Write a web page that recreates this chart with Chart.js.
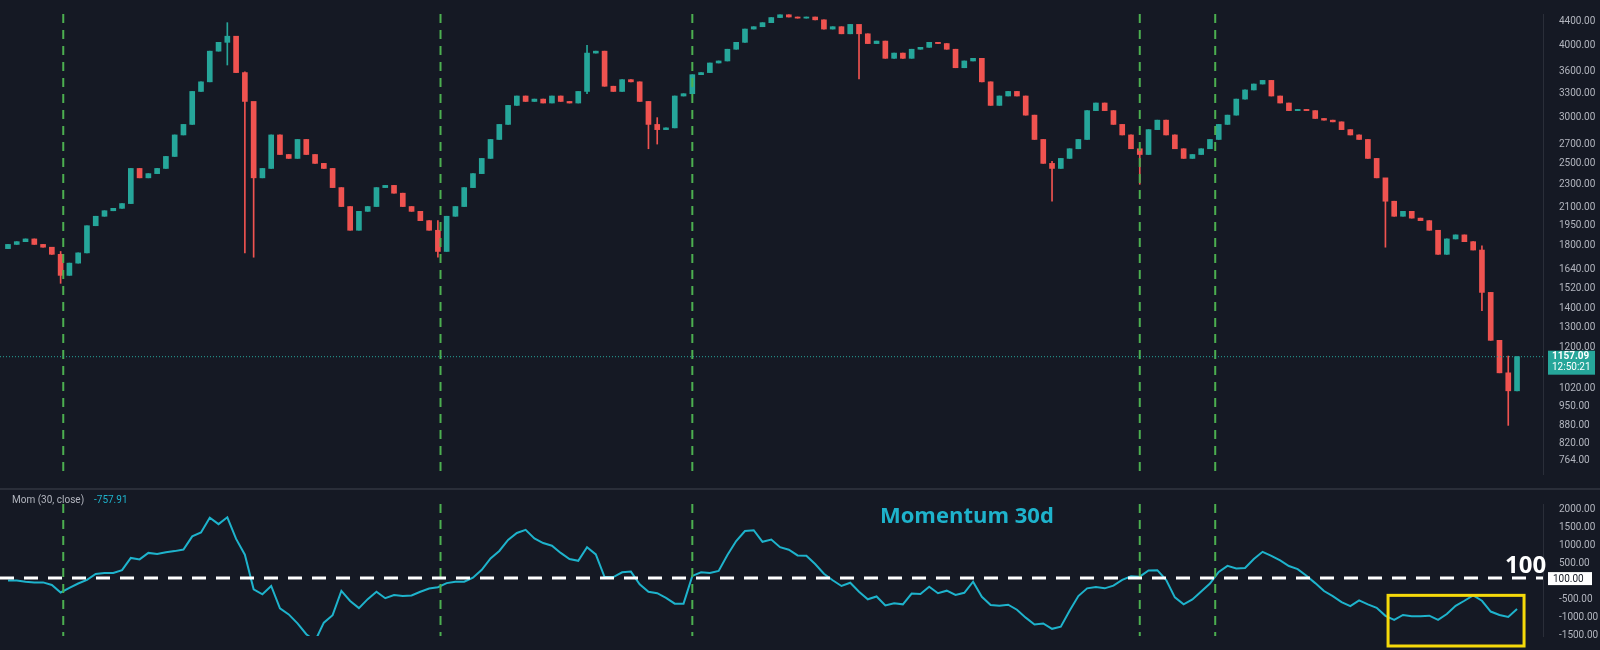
<!DOCTYPE html>
<html>
<head>
<meta charset="utf-8">
<script src="https://cdn.jsdelivr.net/npm/chart.js@4.4.1/dist/chart.umd.min.js"></script>
<style>
  html, body { margin: 0; padding: 0; background: #151924; overflow: hidden; }
  #wrap { position: relative; width: 1600px; height: 650px; overflow: hidden; }
  .pane { position: absolute; left: 0; width: 1600px; }
  #pTop { top: 0; height: 488px; }
  #pBot { top: 490px; height: 160px; }
  #sep { position: absolute; left: 0; top: 488px; width: 1600px; height: 2px; background: #2a2e39; }
</style>
</head>
<body>
<div id="wrap">
  <div class="pane" id="pTop"><canvas id="top"></canvas></div>
  <div id="sep"></div>
  <div class="pane" id="pBot"><canvas id="bot"></canvas></div>
</div>
<script>
// cierres de velas (2 días)
const closes = [1810,1830,1850,1810,1790,1740,1600,1680,1750,1950,
  2025,2070,2090,2130,2450,2360,2400,2450,2570,2800,
  2920,3330,3460,3910,4050,4150,3590,3200,2360,2450,
  2800,2590,2550,2750,2590,2500,2450,2270,2105,1915,
  2065,2105,2270,2290,2220,2105,2065,1990,1915,1760,
  2025,2105,2270,2400,2550,2750,2920,3150,3270,3200,
  3230,3180,3270,3200,3180,3330,3880,3910,3400,3330,
  3490,3460,3200,2920,2860,2880,3270,3300,3560,3590,
  3730,3760,3940,4050,4270,4310,4380,4470,4520,4480,
  4460,4480,4430,4270,4310,4190,4350,4190,4030,4070,
  3800,3880,3800,3940,3970,4050,4030,3940,3660,3760,
  3800,3460,3150,3270,3330,3270,3030,2750,2500,2450,
  2550,2650,2750,3085,3180,3085,2920,2800,2650,2590,
  2860,2970,2800,2650,2550,2590,2650,2750,2920,3030,
  3230,3350,3430,3480,3270,3180,3085,3100,3085,2990,
  2970,2950,2860,2800,2750,2550,2360,2150,2025,2065,
  2010,1990,1915,1740,1850,1880,1830,1770,1495,1235,
  1085,1010,1157.09];
// cierres previos (para el cálculo del momentum)
const warmup = [1780,1800,1850,1830,1810,1830,1900,1850,1800,1900];
const firstOpen = 1780;
// mechas largas: [índice, mínimo, máximo]
const wicks = [[6,1550,1760],[25,3700,4380],[27,1750,3600],[28,1720,2500],[49,1720,1990],
  [66,3300,4000],[73,2650,3200],[74,2700,3000],[97,3500,4300],[119,2150,2520],
  [129,2300,2650],[157,1790,2250],[168,1390,1800],[171,880,1160]];
const priceTicks = [4400,4000,3600,3300,3000,2700,2500,2300,2100,1950,1800,1640,1520,1400,1300,1200,1100,1020,950,880,820,764];
const momTicks = [2000,1500,1000,500,-500,-1000,-1500];
const crossIdx = [6.3, 49.3, 78, 129, 137.6];   // líneas verdes verticales
const boxRange = [157.3, 172.8, -380];          // rectángulo amarillo (x0, x1, y superior)
const LAG = 10;

const UP = '#26a69a', DOWN = '#ef5350';
const bodies = [], lines = [], bodyCol = [], mom = [];
closes.forEach(function(c, i) {
  const o = i === 0 ? firstOpen : closes[i - 1];
  bodies.push({ x: i, y: [o, c] });
  bodyCol.push(c >= o ? UP : DOWN);
  const ref = i < LAG ? warmup[i] : closes[i - LAG];
  mom.push({ x: i, y: c - ref });
  const w = wicks.find(function(k) { return k[0] === i; });
  lines.push({ x: i, y: w ? [w[1], w[2]] : [Math.min(o, c), Math.max(o, c)] });
});

const xScale = { type: 'linear', min: -0.91, max: 174.96, display: false, offset: false };
const axisWidth = function(s) { s.width = 57; };
const tickFont = { family: 'Roboto', size: 10 };

const vlines = {
  id: 'vlines',
  afterDatasetsDraw: function(chart) {
    const ctx = chart.ctx, xs = chart.scales.x, a = chart.chartArea;
    ctx.save();
    ctx.strokeStyle = '#4caf50'; ctx.lineWidth = 2; ctx.setLineDash([9, 7]);
    crossIdx.forEach(function(v) {
      const px = xs.getPixelForValue(v);
      ctx.beginPath(); ctx.moveTo(px, a.top); ctx.lineTo(px, a.bottom); ctx.stroke();
    });
    ctx.restore();
  }
};

const lastPrice = {
  id: 'lastPrice',
  afterDatasetsDraw: function(chart) {
    const ctx = chart.ctx, ys = chart.scales.y, a = chart.chartArea;
    const v = closes[closes.length - 1], py = ys.getPixelForValue(v);
    ctx.save();
    ctx.strokeStyle = '#26a69a'; ctx.lineWidth = 1; ctx.setLineDash([1, 2]);
    ctx.beginPath(); ctx.moveTo(a.left, py); ctx.lineTo(a.right, py); ctx.stroke();
    ctx.setLineDash([]);
    ctx.fillStyle = '#26a69a';
    ctx.fillRect(a.right + 5, py - 6, 47, 24);
    ctx.fillStyle = '#ffffff'; ctx.font = 'bold 10px Roboto'; ctx.textBaseline = 'middle';
    ctx.fillText(v.toFixed(2), a.right + 9, py);
    ctx.font = '10px Roboto';
    ctx.fillText('12:50:21', a.right + 9, py + 11);
    ctx.restore();
  }
};

new Chart(document.getElementById('top'), {
  type: 'bar',
  data: { datasets: [
    { data: lines, backgroundColor: bodyCol, barThickness: 1, grouped: false },
    { data: bodies, backgroundColor: bodyCol, barThickness: 5, grouped: false, minBarLength: 1 }
  ] },
  options: {
    responsive: true, maintainAspectRatio: false, animation: false,
    layout: { padding: 0 },
    plugins: { legend: { display: false }, tooltip: { enabled: false } },
    scales: {
      x: xScale,
      y: {
        type: 'logarithmic', position: 'right', min: 725, max: 4534,
        afterFit: axisWidth,
        afterBuildTicks: function(s) { s.ticks = priceTicks.map(function(v) { return { value: v }; }); },
        ticks: { color: '#b2b5be', font: tickFont, padding: 8, autoSkip: false,
          callback: function(v) { return v.toFixed(2); } },
        grid: { display: false }, border: { color: '#2a2e39' }
      }
    }
  },
  plugins: [vlines, lastPrice]
});

const momExtras = {
  id: 'momExtras',
  afterDatasetsDraw: function(chart) {
    const ctx = chart.ctx, xs = chart.scales.x, ys = chart.scales.y, a = chart.chartArea;
    ctx.save();
    const y100 = ys.getPixelForValue(100);
    ctx.strokeStyle = '#ffffff'; ctx.lineWidth = 3; ctx.setLineDash([14, 10]);
    ctx.beginPath(); ctx.moveTo(a.left, y100); ctx.lineTo(a.right, y100); ctx.stroke();
    ctx.setLineDash([]);
    ctx.strokeStyle = '#f5d90a'; ctx.lineWidth = 3;
    const x0 = xs.getPixelForValue(boxRange[0]), x1 = xs.getPixelForValue(boxRange[1]);
    const yt = ys.getPixelForValue(boxRange[2]);
    ctx.strokeRect(x0, yt, x1 - x0, a.bottom + 10 - yt);
    ctx.fillStyle = '#ffffff';
    ctx.fillRect(a.right + 5, y100 - 6, 44, 13);
    ctx.fillStyle = '#131722'; ctx.font = '10px Roboto'; ctx.textBaseline = 'middle';
    ctx.fillText('100.00', a.right + 10, y100 + 1);
    ctx.fillStyle = '#ffffff'; ctx.font = 'bold 24px "Open Sans"'; ctx.textBaseline = 'alphabetic';
    ctx.fillText('100', a.right - 38, y100 - 5);
    ctx.fillStyle = '#1eb3cc'; ctx.font = 'bold 22px "Open Sans"';
    ctx.fillText('Momentum 30d', 880, 33);
    ctx.font = '10px Roboto'; ctx.fillStyle = '#b2b5be'; ctx.textBaseline = 'middle';
    ctx.fillText('Mom (30, close)', 12, 10);
    ctx.fillStyle = '#1eb3cc';
    ctx.fillText(mom[mom.length - 1].y.toFixed(2), 94, 10);
    ctx.restore();
  }
};

new Chart(document.getElementById('bot'), {
  type: 'line',
  data: { datasets: [{ data: mom, borderColor: '#1eb3cc', borderWidth: 2, pointRadius: 0, tension: 0 }] },
  options: {
    responsive: true, maintainAspectRatio: false, animation: false,
    layout: { padding: 0 },
    plugins: { legend: { display: false }, tooltip: { enabled: false } },
    scales: {
      x: xScale,
      y: {
        position: 'right', min: -1510, max: 2160,
        afterFit: axisWidth,
        afterBuildTicks: function(s) { s.ticks = momTicks.map(function(v) { return { value: v }; }); },
        ticks: { color: '#b2b5be', font: tickFont, padding: 8, autoSkip: false,
          callback: function(v) { return v.toFixed(2); } },
        grid: { display: false }, border: { color: '#2a2e39' }
      }
    }
  },
  plugins: [vlines, momExtras]
});
</script>
</body>
</html>
